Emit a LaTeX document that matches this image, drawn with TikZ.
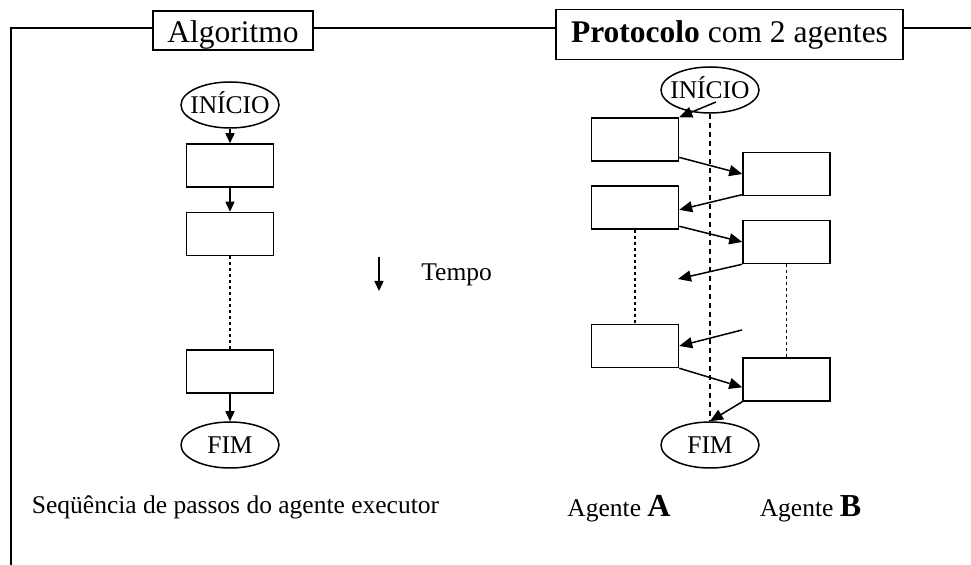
\documentclass[tikz,border=0pt]{standalone}
\usepackage{fontspec}
\setmainfont{Liberation Serif}
\usetikzlibrary{arrows.meta,calc,shapes.geometric}
\newcommand{\dentro}[1]{\makebox[0pt]{#1}}
\tikzset{
	texto/.style={inner sep=0pt, font=\fontsize{12.75pt}{15pt}\selectfont},
	passo/.style={draw, line width=0.75pt, minimum width=43.5pt, minimum height=21.5pt, inner sep=0pt},
	limite/.style={draw, ellipse, line width=0.75pt, minimum width=49pt, minimum height=23pt, inner sep=0pt, text height=8.2pt, text depth=0pt, font=\fontsize{12.75pt}{15pt}\selectfont},
	titulo/.style={draw, fill=white, line width=0.9pt, inner sep=0pt, font=\fontsize{15.75pt}{18pt}\selectfont},
	seta/.style={-{Triangle[length=6.5pt,width=5.5pt]}, line width=0.75pt},
	setap/.style={-{Triangle[length=5pt,width=4.5pt]}, line width=0.75pt},
	pontilhado/.style={line width=0.75pt, dash pattern=on 1.5pt off 1.5pt},
	tracejado/.style={line width=0.75pt, dash pattern=on 2.5pt off 2pt}
}

\begin{document}
\begin{tikzpicture}[x=0.5pt,y=-0.5pt]
	\useasboundingbox (0,0) rectangle (971,565);
	\draw[line width=0.75pt] (11,565) -- (11,28) -- (971,28);
	\node[titulo, minimum width=80pt, text height=15.75pt, text depth=3.75pt] (alg) at (233,30.5) {Algoritmo};
	\node[titulo, minimum width=173.5pt, text height=16.5pt, text depth=8.5pt] (prot) at (729.5,34.5) {\textbf{Protocolo} com 2 agentes};

	\node[limite] (ini) at (230,105) {\dentro{INÍCIO}};
	\node[passo] (p1) at (230,165.5) {};
	\node[passo] (p2) at (230,234) {};
	\node[passo] (p3) at (230,371.5) {};
	\node[limite] (fim) at (230,445) {\dentro{FIM}};
	\draw[setap] (ini) -- (p1);
	\draw[setap] (p1) -- (p2);
	\draw[pontilhado] (p2) -- (p3);
	\draw[setap] (p3) -- (fim);
	\node[texto, anchor=base] (seq) at (235.5,514) {Seqüência de passos do agente executor};

	\coordinate (t0) at (379,257);
	\coordinate (t1) at (379,291);
	\draw[setap] (t0) -- (t1);
	\node[texto, anchor=base west] (tempo) at (421,281) {Tempo};

	\node[limite] (inib) at (710,90) {\dentro{INÍCIO}};
	\node[limite] (fimb) at (710,445) {\dentro{FIM}};
	\draw[tracejado] (inib) -- (fimb);
	\node[passo] (a1) at (635,139.5) {};
	\node[passo] (b1) at (786.5,174) {};
	\node[passo] (a2) at (635,207.5) {};
	\node[passo] (b2) at (786.5,242) {};
	\node[passo] (a3) at (635,346) {};
	\node[passo] (b3) at (786.5,379.5) {};
	\coordinate (va) at (678,279);
	\coordinate (vb) at (742,330);
	\draw[pontilhado] (a2) -- (a3);
	\draw[pontilhado] (b2) -- (b3);
	\draw[seta] ($(inib.center)+(6,12)$) -- (a1.north east);
	\draw[seta] (a1.-22) -- (b1.west);
	\draw[seta] (b1.205) -- (a2.-3);
	\draw[seta] (a2.-23) -- (b2.west);
	\draw[seta] (b2.south west) -- (va);
	\draw[seta] (vb) -- (a3.east);
	\draw[seta] (a3.south east) -- (b3.190);
	\draw[seta] (b3.south west) -- (fimb.north);
	\node[texto, anchor=base] (aga) at (619,517) {Agente \textbf{\fontsize{16pt}{18pt}\selectfont A}};
	\node[texto, anchor=base] (agb) at (810.5,517) {Agente \textbf{\fontsize{16pt}{18pt}\selectfont B}};
\end{tikzpicture}
\end{document}
